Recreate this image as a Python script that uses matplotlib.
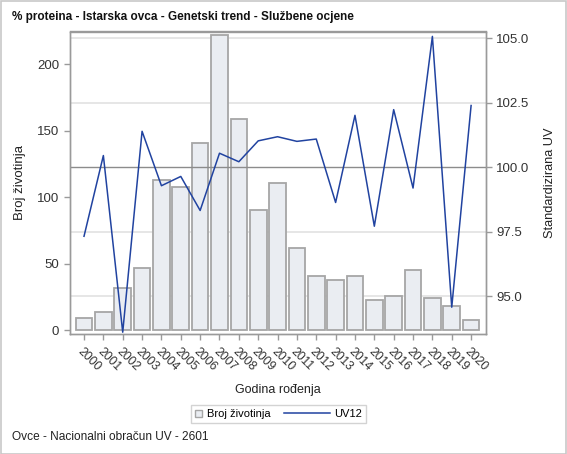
import matplotlib
matplotlib.use("Agg")
import matplotlib.pyplot as plt
from matplotlib.patches import Rectangle, Patch
from matplotlib.lines import Line2D
from matplotlib.legend_handler import HandlerBase
from matplotlib.transforms import blended_transform_factory

plt.rcParams['font.family'] = ['Liberation Sans', 'DejaVu Sans']

years = ['2000', '2001', '2002', '2003', '2004', '2005', '2006', '2007', '2008', '2009',
         '2010', '2011', '2012', '2013', '2014', '2015', '2016', '2017', '2018', '2019', '2020']
broj = [9, 14, 32, 47, 113, 108, 141, 222, 159, 90, 111, 62, 41, 38, 41, 23, 26, 45, 24, 18, 8]
uv12 = [97.32, 100.45, 93.6, 101.39, 99.28, 99.64, 98.32, 100.54, 100.21, 101.02,
        101.18, 101.00, 101.09, 98.63, 102.01, 97.71, 102.23, 99.19, 105.07, 94.57, 102.39]
left_ticks = [0, 50, 100, 150, 200]
right_ticks = [95.0, 97.5, 100.0, 102.5, 105.0]

BAR_FACE = '#eaedf2'
BAR_EDGE = '#a6a6a6'
LINE_COL = '#2143a0'

W, H = 567, 454
fig = plt.figure(figsize=(W / 100, H / 100), dpi=100)
fig.patches.append(Rectangle((0.5 / W, 0.5 / H), 1 - 1.5 / W, 1 - 1.5 / H, transform=fig.transFigure,
                             fill=False, edgecolor='#c8c8c8', linewidth=1.2))

ax = fig.add_axes([69.5 / W, 1 - 333.5 / H, (486 - 69.5) / W, (333.5 - 31.5) / H])
ax2 = ax.twinx()
ax.set_zorder(1)
ax2.set_zorder(2)
ax2.patch.set_visible(False)

x = list(range(len(years)))
ax.set_xlim(-0.75, len(years) - 0.23)
ax.set_ylim(-2.5, 224.6)
ax2.set_ylim(93.55, 105.26)

# light grid lines (right-axis values) behind the bars
gtrans = blended_transform_factory(ax.transAxes, ax2.transData)
for v in right_ticks:
    if v != 100.0:
        ax.plot([0, 1], [v, v], transform=gtrans, color='#e4e4e4', linewidth=1.3, zorder=0)

ax.bar(x, broj, width=0.86, color=BAR_FACE, edgecolor=BAR_EDGE, linewidth=1.3, zorder=3)
ax.set_yticks(left_ticks)
ax.set_xticks(x)
ax.set_xticklabels(years, rotation=-45, ha='left', va='top', rotation_mode='anchor')

ax2.set_yticks(right_ticks)
ax2.set_yticklabels(['%.1f' % v for v in right_ticks])
ax2.axhline(100.0, color='#8c8c8c', linewidth=1.0, zorder=1)
ax2.plot(x, uv12, color=LINE_COL, linewidth=1.1, zorder=5)

for a in (ax, ax2):
    for s in a.spines.values():
        s.set_color('#9a9a9a')
        s.set_linewidth(1.0)
    a.tick_params(axis='both', colors='#9a9a9a', labelcolor='#333333', labelsize=9.5, length=4, width=1)
ax.tick_params(axis='x', pad=5, labelsize=8.8)

ax.set_ylabel('Broj životinja', fontsize=9.5, color='#222222', labelpad=8)
ax2.set_ylabel('Standardizirana UV', fontsize=9.2, color='#222222', labelpad=10)
ax.set_xlabel('Godina rođenja', fontsize=9, color='#222222', labelpad=7)

fig.text(12 / W, 1 - 17 / H, '% proteina - Istarska ovca - Genetski trend - Službene ocjene',
         fontsize=8.5, fontweight='bold', ha='left', va='center', color='#111111')
fig.text(12 / W, 1 - 437 / H, 'Ovce - Nacionalni obračun UV - 2601',
         fontsize=8.6, ha='left', va='center', color='#222222')


class SquareHandler(HandlerBase):
    def create_artists(self, legend, orig_handle, xdescent, ydescent, width, height, fontsize, trans):
        s = width
        p = Rectangle((-xdescent, -ydescent + (height - s) / 2), s, s,
                      facecolor=BAR_FACE, edgecolor=BAR_EDGE, linewidth=1.0, transform=trans)
        return [p]


class LongLineHandler(HandlerBase):
    def create_artists(self, legend, orig_handle, xdescent, ydescent, width, height, fontsize, trans):
        L = 4.1 * fontsize
        y = -ydescent + height / 2
        ln = Line2D([-xdescent + width - L, -xdescent + width], [y, y], color=LINE_COL,
                    linewidth=1.1, transform=trans)
        return [ln]


handles = [Patch(facecolor=BAR_FACE, edgecolor=BAR_EDGE),
           Line2D([0], [0], color=LINE_COL, linewidth=1.1)]
leg = fig.legend(handles, ['Broj životinja', 'UV12'], loc='center', bbox_to_anchor=(278.5 / W, 1 - 414 / H),
                 ncol=2, frameon=True, fancybox=False, fontsize=8, handlelength=0.65, columnspacing=4.7,
                 handletextpad=0.4, borderpad=0.4, borderaxespad=0,
                 handler_map={Patch: SquareHandler(), Line2D: LongLineHandler()})
leg.get_frame().set_edgecolor('#c8c8c8')
leg.get_frame().set_linewidth(1.0)

fig.savefig('out.png', dpi=100)
